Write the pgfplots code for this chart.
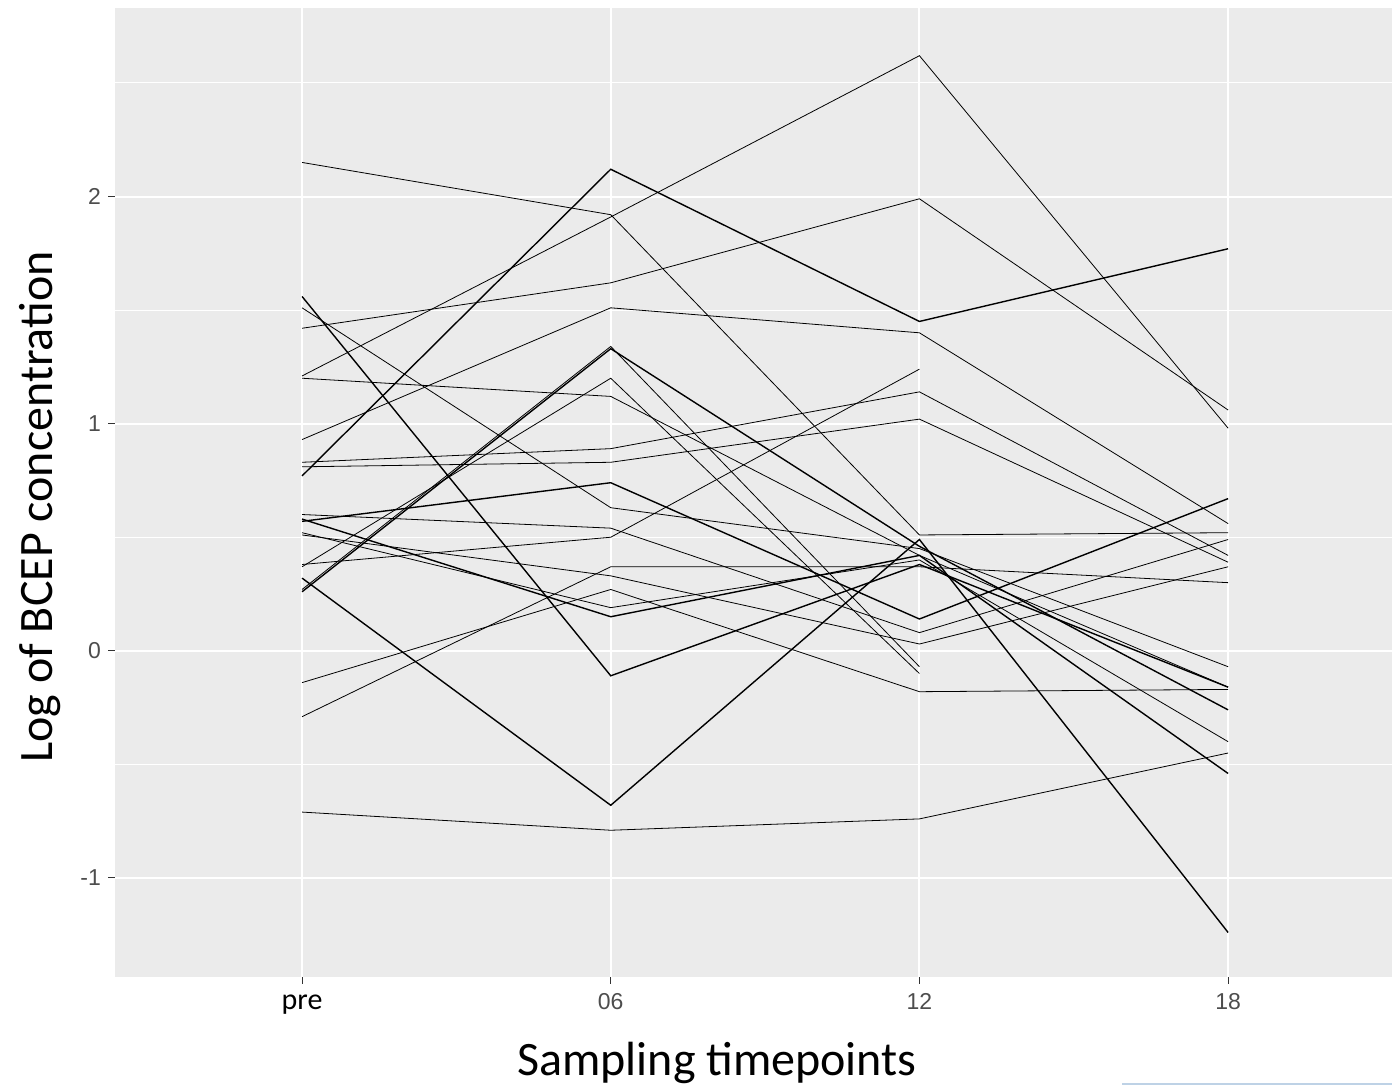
\documentclass[border=0pt]{standalone}
\usepackage{pgfplots}
\pgfplotsset{compat=1.18}
\usepackage{fontspec}
\setmainfont{Liberation Sans}
\newfontfamily\carlito{Carlito}
\definecolor{panelbg}{HTML}{EBEBEB}
\definecolor{grey30}{HTML}{4D4D4D}
\definecolor{grey20}{HTML}{333333}
\definecolor{edgeblue}{RGB}{190,210,230}
\begin{document}
\begin{tikzpicture}
\path[use as bounding box] (0,0) rectangle (696pt,543pt);
\begin{axis}[
  at={(57.5pt,54.5pt)}, anchor=south west,
  scale only axis, width=638.5pt, height=484.5pt,
  xmin=0.394, xmax=4.531, ymin=-1.436, ymax=2.83,
  axis background/.style={fill=panelbg},
  axis line style={draw=none},
  xtick={1,2,3,4},
  xticklabels={{\carlito\fontsize{15}{15}\selectfont\color{black}pre},06,12,18},
  ytick={-1,0,1,2},
  yticklabels={-1,0,1,2},
  minor ytick={-0.5,0.5,1.5,2.5},
  tick pos=left, tick align=outside,
  major tick length=3.5pt,
  tick style={grey20, line width=0.5pt},
  grid=both,
  major grid style={white, line width=1pt},
  minor grid style={white, line width=0.5pt},
  minor tick length=0pt,
  ticklabel style={font=\fontsize{11.5}{11.5}\selectfont, text=grey30},
  xticklabel style={anchor=base, yshift=-13pt},
  yticklabel style={anchor=east},
  cycle list={{black, solid, line width=0.7pt, mark=none}},
  clip=true,
]
\addplot coordinates {(1,2.15)(2,1.92)(3,0.51)(4,0.52)};
\addplot coordinates {(1,1.21)(2,1.91)(3,2.62)(4,0.98)};
\addplot coordinates {(1,0.77)(2,2.12)(3,1.45)(4,1.77)};
\addplot coordinates {(1,1.42)(2,1.62)(3,1.99)(4,1.06)};
\addplot coordinates {(1,0.93)(2,1.51)(3,1.40)(4,0.56)};
\addplot coordinates {(1,0.83)(2,0.89)(3,1.14)(4,0.42)};
\addplot coordinates {(1,1.56)(2,-0.11)(3,0.38)(4,-0.16)};
\addplot coordinates {(1,1.51)(2,0.63)(3,0.45)(4,-0.07)};
\addplot coordinates {(1,1.20)(2,1.12)(3,0.42)(4,-0.16)};
\addplot coordinates {(1,0.27)(2,1.34)(3,-0.07)};
\addplot coordinates {(1,0.26)(2,1.33)(3,0.46)(4,-0.26)};
\addplot coordinates {(1,0.37)(2,1.20)(3,-0.10)};
\addplot coordinates {(1,-0.71)(2,-0.79)(3,-0.74)(4,-0.45)};
\addplot coordinates {(1,-0.29)(2,0.37)(3,0.37)(4,0.30)};
\addplot coordinates {(1,0.32)(2,-0.68)(3,0.49)(4,-1.24)};
\addplot coordinates {(1,-0.14)(2,0.27)(3,-0.18)(4,-0.17)};
\addplot coordinates {(1,0.81)(2,0.83)(3,1.02)(4,0.39)};
\addplot coordinates {(1,0.38)(2,0.50)(3,1.24)};
\addplot coordinates {(1,0.57)(2,0.74)(3,0.14)(4,0.67)};
\addplot coordinates {(1,0.60)(2,0.54)(3,0.08)(4,0.49)};
\addplot coordinates {(1,0.51)(2,0.33)(3,0.03)(4,0.37)};
\addplot coordinates {(1,0.52)(2,0.19)(3,0.40)(4,-0.40)};
\addplot coordinates {(1,0.58)(2,0.15)(3,0.42)(4,-0.54)};
\end{axis}
\node[anchor=base, font=\carlito\fontsize{24}{24}\selectfont] at (358.5pt,5pt) {Sampling timepoints};
\node[anchor=base, rotate=90, font=\carlito\fontsize{24}{24}\selectfont] at (26pt,289.5pt) {Log of BCEP concentration};
\draw[edgeblue, line width=0.6pt] (561pt,1pt) -- (696pt,1pt);
\end{tikzpicture}
\end{document}
